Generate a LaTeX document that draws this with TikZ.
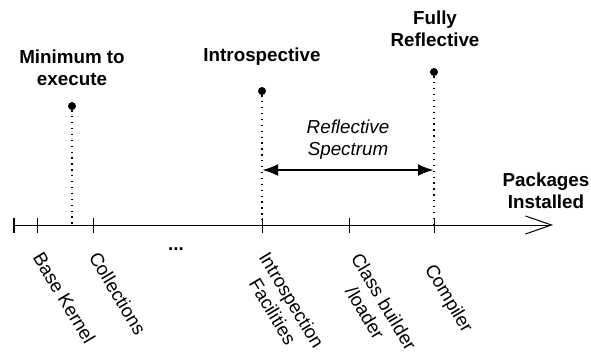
\documentclass[tikz,border=0pt]{standalone}
\usepackage{fontspec}
\setmainfont{Liberation Sans}
\usetikzlibrary{arrows.meta}
\begin{document}
\begin{tikzpicture}[x=1pt,y=-1pt,
  font=\fontsize{18.8}{22}\selectfont,
  dotmark/.style={circle,fill=black,inner sep=0pt,minimum size=8pt},
  vdots/.style={line width=1.2pt,dash pattern=on 1.3pt off 4.6pt},
  tickmark/.style={line width=1pt},
  toplab/.style={font=\fontsize{18.8}{22}\selectfont\bfseries,align=center,inner sep=0pt},
  rotlab/.style={rotate=-59,anchor=north west,align=center,inner sep=0pt},
  axisline/.style={line width=1pt,-{Straight Barb[length=26pt,width=18pt,line width=1pt]}},
  spec/.style={line width=2.5pt,{Latex[length=16pt,width=12pt]}-{Latex[length=16pt,width=12pt]}}
]
\useasboundingbox (0,0) rectangle (591,353);
% axis
\coordinate (a0) at (14,225);
\coordinate (aend) at (553,225);
\draw[axisline] (a0) -- (aend);
\draw[line width=2.5pt] (14,218) -- (14,233);
% ticks
\foreach \n/\x in {tbk/37,tcol/93,tint/262,tcls/349,tcmp/434}{
  \coordinate (\n) at (\x,225);
  \draw[tickmark] (\x,218) -- (\x,233);
}
\coordinate (tmin) at (72,225);
% dots
\node[dotmark] (dmin) at (72,106) {};
\node[dotmark] (dint) at (262,91) {};
\node[dotmark] (dfull) at (434,72) {};
\draw[vdots] (dmin) -- (tmin);
\draw[vdots] (dint) -- (tint);
\draw[vdots] (dfull) -- (tcmp);
% spectrum arrow
\coordinate (sl) at (262,170);
\coordinate (sr) at (434,170);
\draw[spec] (sl) -- (sr);
\node[align=center,inner sep=0pt,font=\fontsize{18.8}{22}\selectfont\itshape] (spl) at (348,140) {Reflective\\Spectrum};
% top labels
\node[toplab] (lmin) at (72,68) {Minimum to\\execute};
\node[toplab] (lint) at (262,57) {Introspective};
\node[toplab] (lfull) at (435,29) {Fully\\Reflective};
\node[toplab] (lpk) at (546,191) {Packages\\Installed};
% rotated labels
\node[rotlab] (rbk) at (44,250) {Base Kernel};
\node[rotlab] (rcol) at (100,250) {Collections};
\node[inner sep=0pt,font=\fontsize{18.8}{22}\selectfont\bfseries] (dots) at (176,249) {...};
\node[rotlab] (rint) at (270,250) {Introspection\\Facilities};
\node[rotlab] (rcls) at (362,251) {Class builder\\/loader};
\node[rotlab] (rcmp) at (436,262) {Compiler};
\end{tikzpicture}
\end{document}
